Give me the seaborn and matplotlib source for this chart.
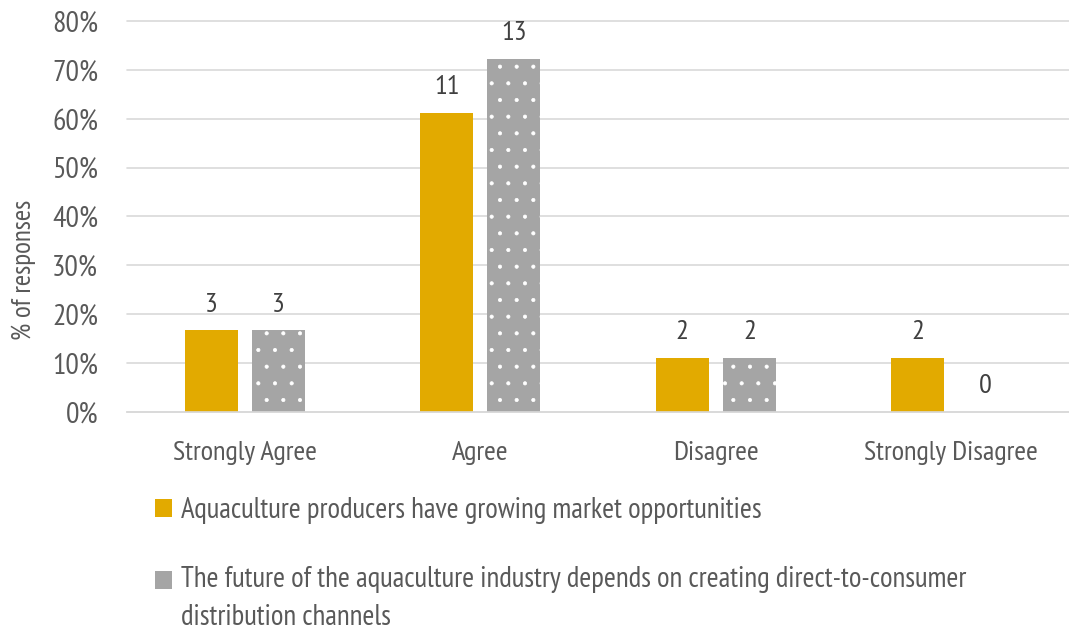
import pandas as pd
import seaborn as sns
import matplotlib.pyplot as plt
from matplotlib.ticker import PercentFormatter

categories = ['Strongly Agree', 'Agree', 'Disagree', 'Strongly Disagree']
series_names = ['Aquaculture producers have growing market opportunities',
                'The future of the aquaculture industry depends on creating direct-to-consumer\ndistribution channels']
counts_a = [3, 11, 2, 2]
counts_b = [3, 13, 2, 0]
pct_a = [0.167, 0.611, 0.111, 0.111]
pct_b = [0.167, 0.722, 0.111, 0.0]

df = pd.DataFrame({
    'answer': categories * 2,
    'series': [series_names[0]] * 4 + [series_names[1]] * 4,
    'pct': pct_a + pct_b,
})

sns.set_style('white')
plt.rcParams['font.family'] = ['PT Sans Narrow', 'DejaVu Sans']
plt.rcParams['hatch.linewidth'] = 0.5
text_col = '#595959'

fig = plt.figure(figsize=(10.69, 6.33), dpi=100)
ax = fig.add_axes([0.119, 0.349, 0.881, 0.618])

sns.barplot(data=df, x='answer', y='pct', hue='series', palette=['#e2aa00', '#a5a5a5'],
            width=0.57, gap=0.21, edgecolor='white', linewidth=0, saturation=1, ax=ax)

# dotted fill for the second series
for p in ax.containers[1]:
    p.set_hatch('.')
for cont, lab in zip(ax.containers, [counts_a, counts_b]):
    ax.bar_label(cont, labels=[str(v) for v in lab], padding=10, fontsize=20.5, color='#404040')

ax.set_ylim(0, 0.8)
ax.set_yticks([i / 10 for i in range(9)])
ax.yaxis.set_major_formatter(PercentFormatter(1, decimals=0))
ax.grid(axis='y', color='#d9d9d9', linewidth=1.2, clip_on=False)
ax.set_axisbelow(True)
for s in ['top', 'right', 'left']:
    ax.spines[s].set_visible(False)
ax.spines['bottom'].set_color('#d9d9d9')
ax.spines['bottom'].set_linewidth(1.2)
ax.tick_params(axis='x', length=0, pad=21, labelsize=20.5, labelcolor=text_col)
ax.tick_params(axis='y', length=0, pad=21, labelsize=21.5, labelcolor=text_col)
ax.set_xlabel('')
ax.set_ylabel('% of responses', fontsize=19.5, color=text_col)
ax.yaxis.set_label_coords(-0.097, 0.363)

leg = ax.legend(loc='upper left', bbox_to_anchor=(0.0297, -0.217), frameon=False, fontsize=20.7,
                labelcolor=text_col, handlelength=0.59, handleheight=0.59, handletextpad=0.3,
                labelspacing=1.47, borderpad=0, borderaxespad=0)
for t in leg.get_texts():
    t.set_linespacing(1.5)
# put the second marker next to the first line of its wrapped label
h2 = leg.legend_handles[1]
h2.set_y(h2.get_y() + 13.5)

plt.savefig('out.png', dpi=100)
